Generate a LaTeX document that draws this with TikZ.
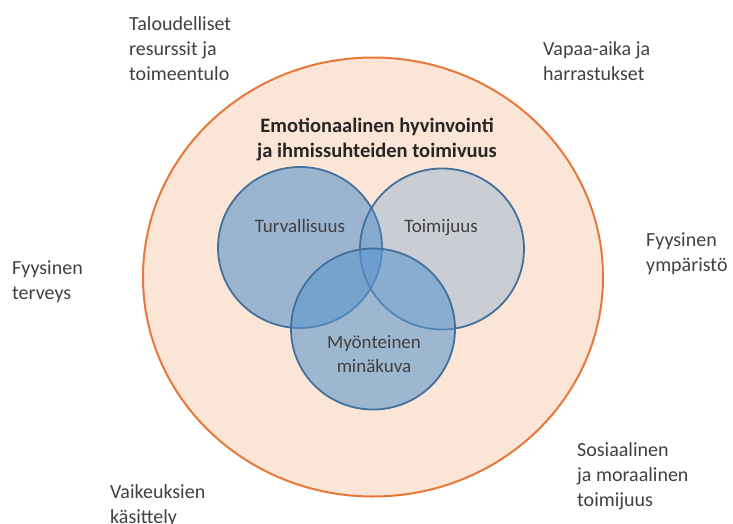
\documentclass[tikz,border=0pt]{standalone}
\usepackage{fontspec}
\setmainfont{Carlito}
\usetikzlibrary{shapes.geometric}
\definecolor{peach}{RGB}{251,229,214}
\definecolor{orangeline}{RGB}{232,120,58}
\definecolor{blueline}{RGB}{65,113,156}
\definecolor{bluefill}{RGB}{91,150,205}
\definecolor{txt}{RGB}{64,64,64}
\definecolor{titletxt}{RGB}{38,38,38}
\begin{document}
\begin{tikzpicture}[x=1pt,y=-1pt,
  lbl/.style={font=\fontsize{20}{25}\selectfont, text=txt, align=left, anchor=base west, inner sep=0pt},
  inlbl/.style={font=\fontsize{19}{24}\selectfont, text=txt, align=center, anchor=base, inner sep=0pt},
  ring/.style={ellipse, draw=blueline, line width=1.8pt, fill=bluefill, minimum width=164pt, minimum height=161pt, inner sep=0pt}]
\useasboundingbox (0,0) rectangle (733,523);
% outer circle
\node[ellipse, fill=peach, draw=orangeline, line width=2pt, minimum width=460pt, minimum height=439pt, inner sep=0pt] (outer) at (373,277) {};
% inner circles
\node[ring, fill opacity=0.6] (turv) at (300,247.5) {};
\node[ring, fill opacity=0.3] (toimi) at (442,249) {};
\node[ring, fill opacity=0.58] (myon) at (373,329) {};
% title (base anchor = last line)
\node[font=\bfseries\fontsize{20.5}{25}\selectfont, text=titletxt, align=center, anchor=base, inner sep=0pt] (title) at (377,157) {Emotionaalinen hyvinvointi\\ja ihmissuhteiden toimivuus};
% inner labels
\node[inlbl] (turvl) at (300,232) {Turvallisuus};
\node[inlbl] (toimil) at (441,232) {Toimijuus};
\node[inlbl] (myonl) at (374,372) {Myönteinen\\minäkuva};
% outer labels (positioned by last line baseline)
\node[lbl] (tal) at (129,80) {Taloudelliset\\resurssit ja\\toimeentulo};
\node[lbl] (vap) at (543,80) {Vapaa-aika ja\\harrastukset};
\node[lbl] (fyt) at (12,299) {Fyysinen\\terveys};
\node[lbl] (fyy) at (646,271) {Fyysinen\\ympäristö};
\node[lbl] (sos) at (577,506) {Sosiaalinen\\ja moraalinen\\toimijuus};
\node[lbl] (vai) at (110,523) {Vaikeuksien\\käsittely};
\end{tikzpicture}
\end{document}
